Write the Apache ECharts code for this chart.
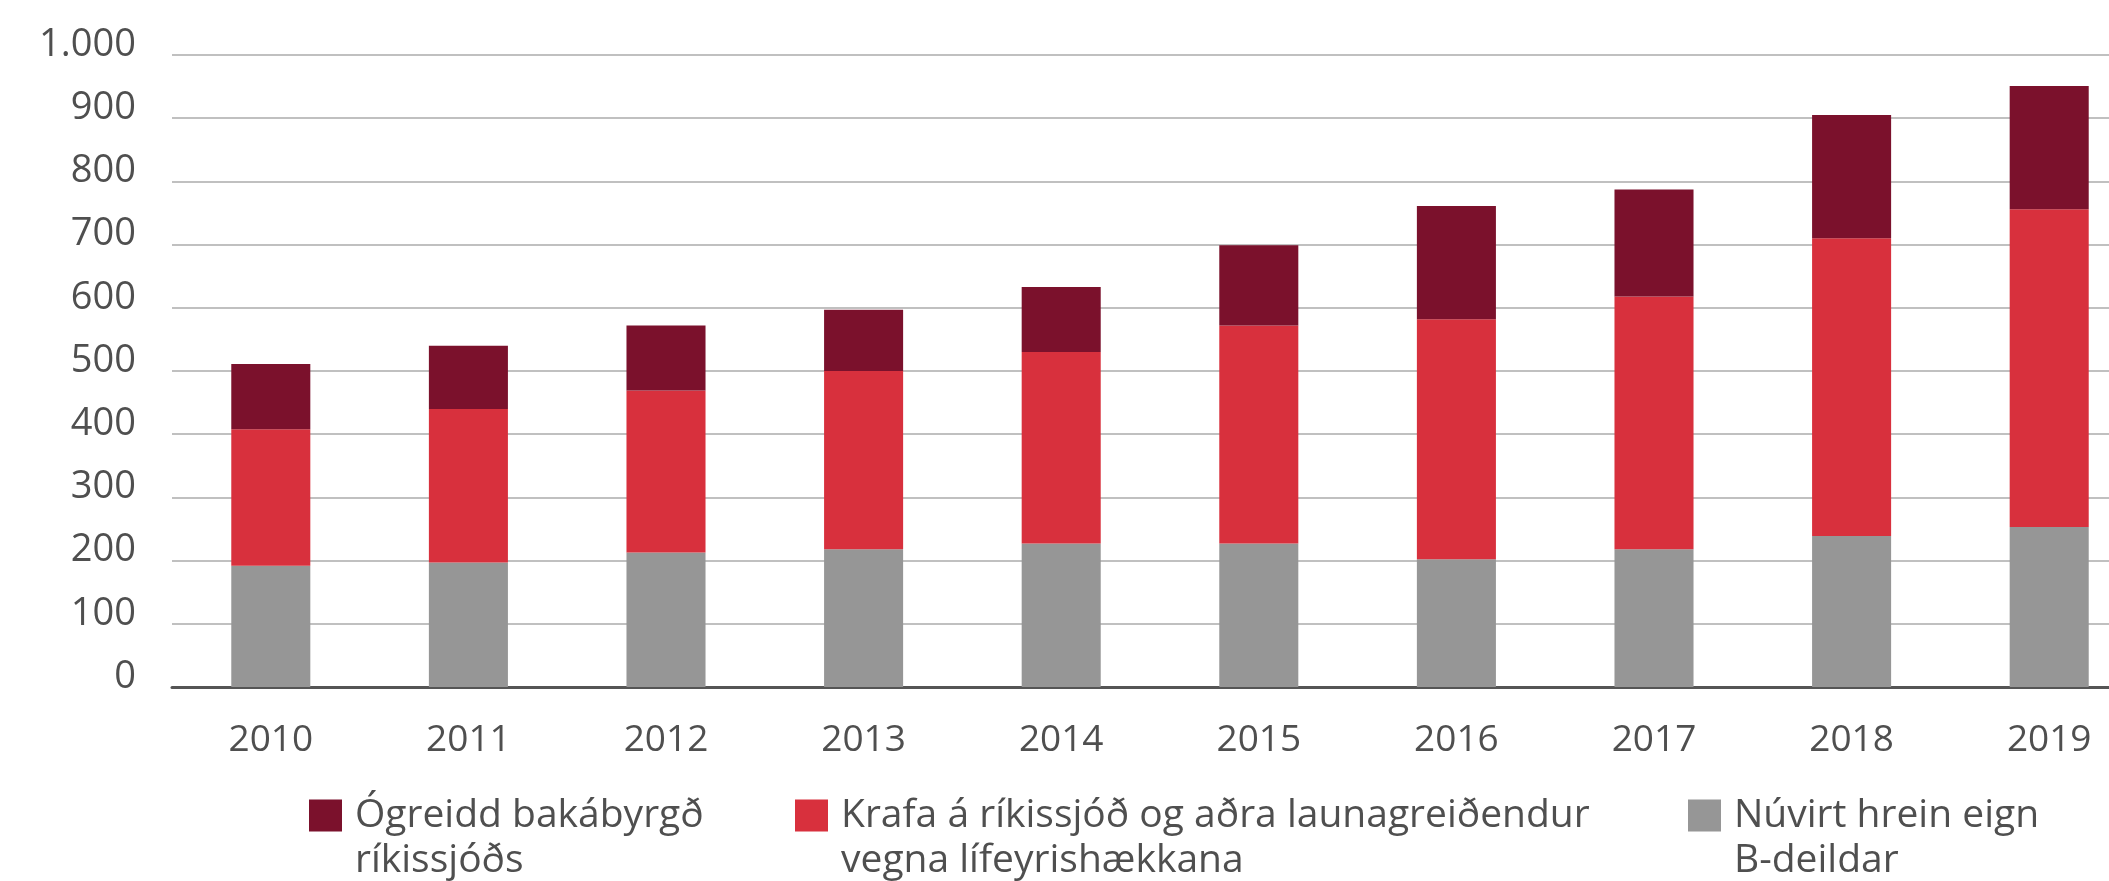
<!DOCTYPE html>
<html lang="is">
<head>
<meta charset="utf-8">
<title>B-deild – skuldbindingar</title>
<script src="https://cdn.jsdelivr.net/npm/echarts@6/dist/echarts.min.js"></script>
<style>
  html, body { margin: 0; padding: 0; background: #ffffff; }
  #chart { width: 2109px; height: 881px; }
</style>
</head>
<body>
<div id="chart"></div>
<script>
// Ár (flokkar á x-ás)
const years = ['2010', '2011', '2012', '2013', '2014', '2015', '2016', '2017', '2018', '2019'];

// Núvirt hrein eign B-deildar (neðsti hluti)
const hreinEign = [192, 197, 213, 218, 227, 227, 202, 218, 239, 253];
// Krafa á ríkissjóð og aðra launagreiðendur vegna lífeyrishækkana (miðhluti)
const krafa = [216, 243, 256, 282, 303, 345, 380, 400, 471, 503];
// Ógreidd bakábyrgð ríkissjóðs (efsti hluti)
const bakabyrgd = [103, 100, 103, 97, 103, 127, 179, 169, 195, 195];

// Heiti raða eins og þau birtast í skýringum
const nameBakabyrgd = 'Ógreidd bakábyrgð\nríkissjóðs';
const nameKrafa = 'Krafa á ríkissjóð og aðra launagreiðendur\nvegna lífeyrishækkana';
const nameEign = 'Núvirt hrein eign\nB-deildar';

// Kvarðamerki y-áss
const yTicks = { min: 0, max: 1000, interval: 100 };

const colors = { eign: '#969696', krafa: '#d8303d', bak: '#7b112c' };
const textColor = '#4f4f4f';
const fontFamily = '"Open Sans", Lato, sans-serif';
const fontSize = 37;

const chart = echarts.init(document.getElementById('chart'), null, { renderer: 'canvas' });

// Ein skýring fyrir hverja röð; fyrsta lína textans stendur við litareitinn
function legendAt(left, name) {
  return {
    data: [name],
    left: left,
    top: 748,
    orient: 'horizontal',
    padding: 0,
    itemWidth: 33,
    itemHeight: 32,
    icon: 'rect',
    selectedMode: false,
    formatter: function (n) { return ' \n' + n; },
    textStyle: {
      fontFamily: fontFamily,
      fontSize: 39,
      color: textColor,
      lineHeight: 45,
      padding: [0, 0, 0, 8]
    }
  };
}

chart.setOption({
  animation: false,
  backgroundColor: '#ffffff',
  // Teiknisvæðið nær út fyrir hægri brún myndarinnar
  grid: {
    left: 172, width: 1976, top: 55, bottom: 194,
    containLabel: false, outerBoundsMode: 'none'
  },
  legend: [
    legendAt(309, nameBakabyrgd),
    legendAt(795, nameKrafa),
    legendAt(1688, nameEign)
  ],
  xAxis: {
    type: 'category',
    data: years,
    axisTick: { show: false },
    axisLine: { show: true, lineStyle: { color: '#555555', width: 3 } },
    axisLabel: {
      color: textColor,
      fontFamily: fontFamily,
      fontSize: fontSize,
      margin: 35
    }
  },
  yAxis: {
    type: 'value',
    min: yTicks.min,
    max: yTicks.max,
    interval: yTicks.interval,
    axisLine: { show: false },
    axisTick: { show: false },
    splitLine: { lineStyle: { color: '#ababab', width: 1.5 } },
    axisLabel: {
      color: textColor,
      fontFamily: fontFamily,
      fontSize: 38,
      margin: 36,
      verticalAlign: 'bottom',
      lineHeight: 20,
      formatter: function (v) {
        return String(v).replace(/\B(?=(\d{3})+(?!\d))/g, '.');
      }
    }
  },
  series: [
    {
      name: nameEign,
      type: 'bar',
      stack: 'total',
      barWidth: '40%',
      data: hreinEign,
      itemStyle: { color: colors.eign }
    },
    {
      name: nameKrafa,
      type: 'bar',
      stack: 'total',
      barWidth: '40%',
      data: krafa,
      itemStyle: { color: colors.krafa }
    },
    {
      name: nameBakabyrgd,
      type: 'bar',
      stack: 'total',
      barWidth: '40%',
      data: bakabyrgd,
      itemStyle: { color: colors.bak }
    }
  ]
});
</script>
</body>
</html>
